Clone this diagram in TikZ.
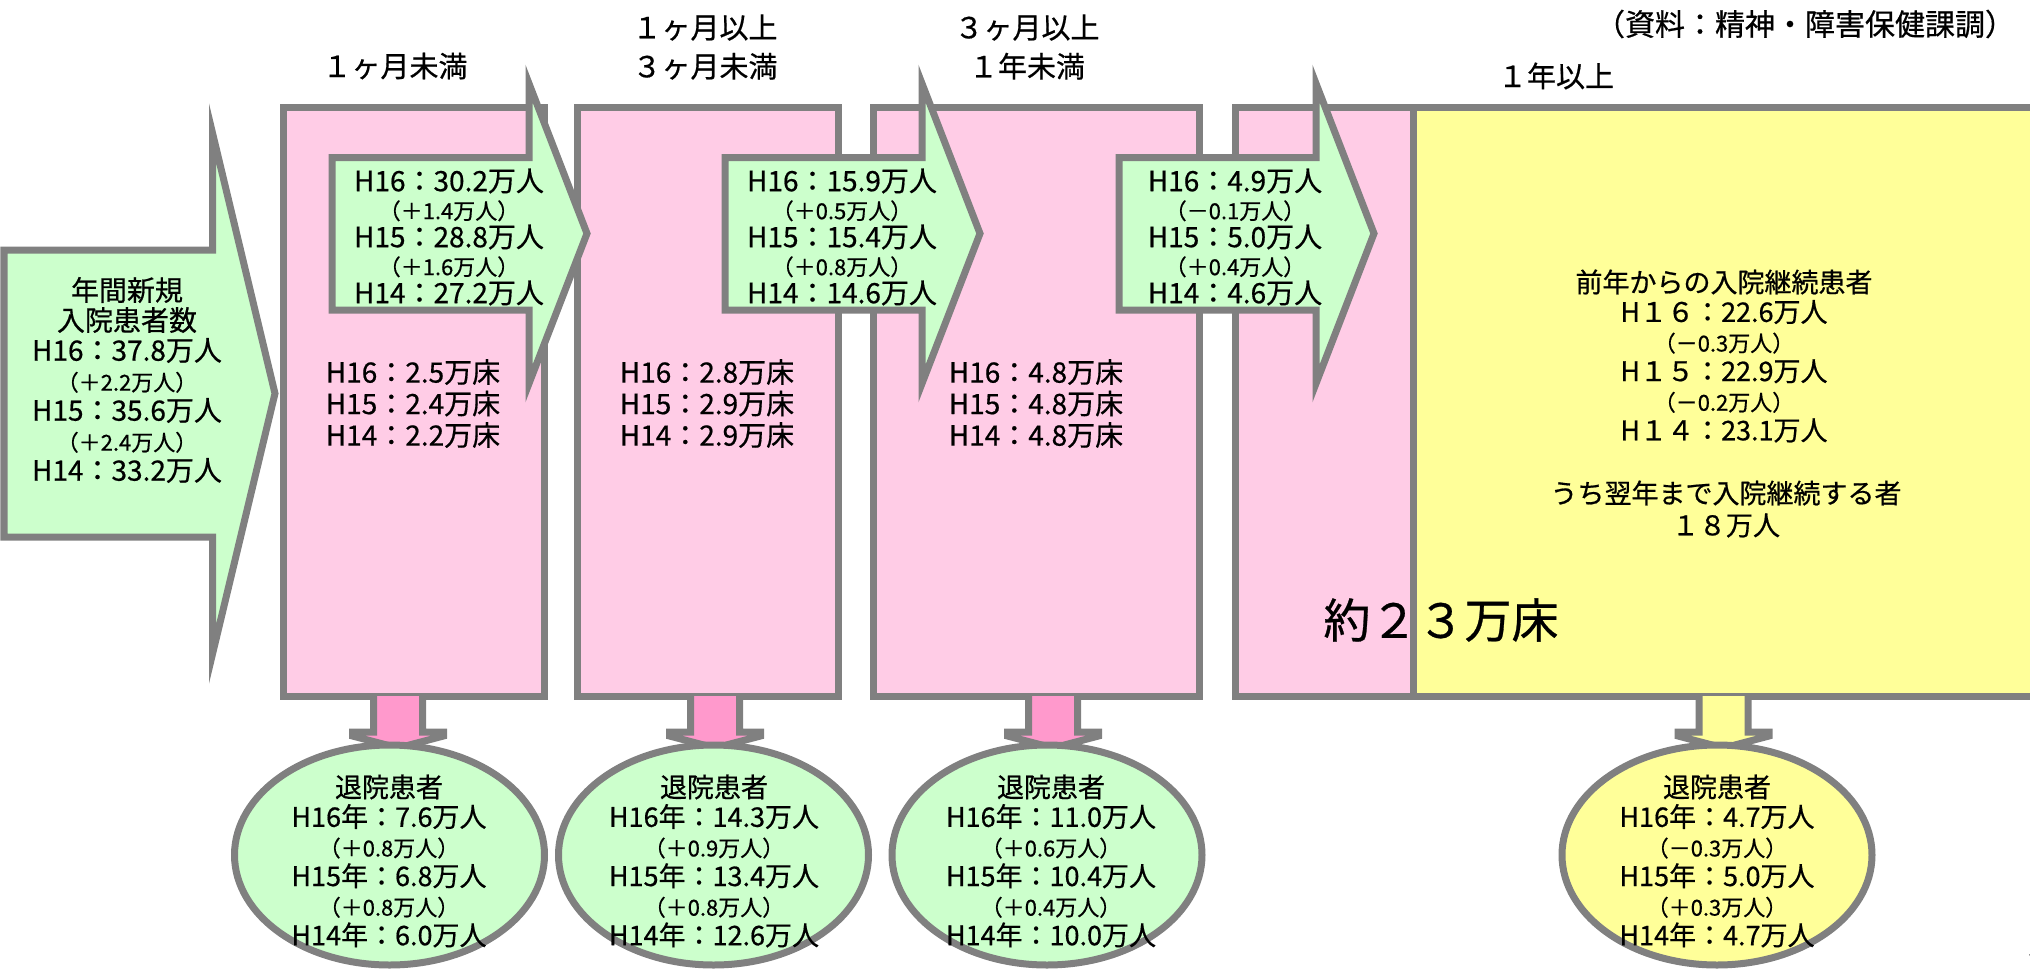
\documentclass[tikz,border=0pt]{standalone}
\usepackage{fontspec}
\setmainfont{Noto Sans CJK JP}[FakeBold=0.6]
\usepackage{tikz}
\usetikzlibrary{shapes.geometric}
\definecolor{linegray}{HTML}{808080}
\definecolor{pinkbed}{HTML}{FFCCE6}
\definecolor{greenflow}{HTML}{CCFFCC}
\definecolor{yellowlong}{HTML}{FFFF99}
\definecolor{pinkout}{HTML}{FF99CC}
\newcommand{\sm}[1]{{\fontsize{22}{22}\selectfont #1}}
\tikzset{
ward/.style={rectangle,draw=linegray,line width=7pt,fill=pinkbed,inner sep=0pt},
flow/.style={draw=linegray,line width=7pt,fill=greenflow},
outflow/.style={draw=linegray,line width=7pt,fill=pinkout},
leaver/.style={ellipse,draw=linegray,line width=7pt,fill=greenflow,minimum width=310pt,minimum height=220pt,inner sep=0pt},
flowtext/.style={align=center,inner sep=0pt,font=\fontsize{28}{28}\selectfont},
newtext/.style={align=center,inner sep=0pt,font=\fontsize{28}{30}\selectfont},
bedtext/.style={align=center,inner sep=0pt,font=\fontsize{28}{31.5}\selectfont},
leavetext/.style={align=center,inner sep=0pt,font=\fontsize{27}{29.6}\selectfont},
headtext/.style={align=center,inner sep=0pt,font=\fontsize{29}{39}\selectfont}
}

\begin{document}
\begin{tikzpicture}[x=1pt,y=-1pt]
\useasboundingbox (0,0) rectangle (2030,969);
% new admissions
\draw[flow] (4,250) -- (212.5,250) -- (212.5,133) -- (275,393.5) -- (212.5,654) -- (212.5,537) -- (4,537) -- cycle;
% wards by length of stay
\node at (413.5,401.5)[ward,minimum width=261pt,minimum height=589pt](w1){};
\node at (707.5,401.5)[ward,minimum width=261pt,minimum height=589pt](w2){};
\node at (1036,401.5)[ward,minimum width=326pt,minimum height=589pt](w3){};
\node at (1324,401.5)[ward,minimum width=178pt,minimum height=589pt](w4){};
\node at (1729,401.5)[ward,fill=yellowlong,minimum width=632pt,minimum height=589pt](w5){};
% transfers to the next stage
\draw[flow] (332,157.5) -- (529,157.5) -- (529,83.5) -- (587,233.5) -- (529,383.5) -- (529,310) -- (332,310) -- cycle;
\draw[flow] (725,157.5) -- (922,157.5) -- (922,83.5) -- (980,233.5) -- (922,383.5) -- (922,310) -- (725,310) -- cycle;
\draw[flow] (1119,157.5) -- (1316,157.5) -- (1316,83.5) -- (1374,233.5) -- (1316,383.5) -- (1316,310) -- (1119,310) -- cycle;
% discharges
\filldraw[outflow] (373.5,696) -- (373.5,732) -- (352.5,732) -- (352.5,736) -- (398,748) -- (443.5,736) -- (443.5,732) -- (422.5,732) -- (422.5,696);
\filldraw[outflow] (690.5,696) -- (690.5,732) -- (669.5,732) -- (669.5,736) -- (715,748) -- (760.5,736) -- (760.5,732) -- (739.5,732) -- (739.5,696);
\filldraw[outflow] (1028.5,696) -- (1028.5,732) -- (1007.5,732) -- (1007.5,736) -- (1053,748) -- (1098.5,736) -- (1098.5,732) -- (1077.5,732) -- (1077.5,696);
\filldraw[outflow,fill=yellowlong] (1699,696) -- (1699,732) -- (1678,732) -- (1678,736) -- (1723.5,748) -- (1769,736) -- (1769,732) -- (1748,732) -- (1748,696);
\node at (389.5,855)[leaver](e1){};
\node at (713.5,855)[leaver](e2){};
\node at (1047,855)[leaver](e3){};
\node at (1717,855)[leaver,fill=yellowlong](e4){};
% labels
\node at (1805,24)[headtext,font=\fontsize{30}{32}\selectfont](src){（資料：精神・障害保健課調）};
\node at (395,66)[headtext](h1){１ヶ月未満};
\node at (705,47)[headtext](h2){１ヶ月以上\\３ヶ月未満};
\node at (1027,47)[headtext](h3){３ヶ月以上\\１年未満};
\node at (1556,76)[headtext](h4){１年以上};
\node at (127,380)[newtext](tnew){年間新規\\入院患者数\\H16：37.8万人\\\sm{（＋2.2万人）}\\H15：35.6万人\\\sm{（＋2.4万人）}\\H14：33.2万人};
\node at (449,237)[flowtext](f1){H16：30.2万人\\\sm{（＋1.4万人）}\\H15：28.8万人\\\sm{（＋1.6万人）}\\H14：27.2万人};
\node at (842,237)[flowtext](f2){H16：15.9万人\\\sm{（＋0.5万人）}\\H15：15.4万人\\\sm{（＋0.8万人）}\\H14：14.6万人};
\node at (1235,237)[flowtext](f3){H16：4.9万人\\\sm{（－0.1万人）}\\H15：5.0万人\\\sm{（＋0.4万人）}\\H14：4.6万人};
\node at (413,403.5)[bedtext](b1){H16：2.5万床\\H15：2.4万床\\H14：2.2万床};
\node at (707,403.5)[bedtext](b2){H16：2.8万床\\H15：2.9万床\\H14：2.9万床};
\node at (1036,403.5)[bedtext](b3){H16：4.8万床\\H15：4.8万床\\H14：4.8万床};
\node at (1724,356)[leavetext](stay){前年からの入院継続患者\\H１６：22.6万人\\\sm{（－0.3万人）}\\H１５：22.9万人\\\sm{（－0.2万人）}\\H１４：23.1万人};
\node at (1726,509)[leavetext,font=\fontsize{27}{32}\selectfont](next){うち翌年まで入院継続する者\\１８万人};
\node at (1441,620)[inner sep=0pt,font=\fontsize{47}{50}\selectfont](beds){約２３万床};
\node at (389,861)[leavetext](l1){退院患者\\H16年：7.6万人\\\sm{（＋0.8万人）}\\H15年：6.8万人\\\sm{（＋0.8万人）}\\H14年：6.0万人};
\node at (714,861)[leavetext](l2){退院患者\\H16年：14.3万人\\\sm{（＋0.9万人）}\\H15年：13.4万人\\\sm{（＋0.8万人）}\\H14年：12.6万人};
\node at (1051,861)[leavetext](l3){退院患者\\H16年：11.0万人\\\sm{（＋0.6万人）}\\H15年：10.4万人\\\sm{（＋0.4万人）}\\H14年：10.0万人};
\node at (1717,861)[leavetext](l4){退院患者\\H16年：4.7万人\\\sm{（－0.3万人）}\\H15年：5.0万人\\\sm{（＋0.3万人）}\\H14年：4.7万人};
\node at (2037,947)[inner sep=0pt,font=\fontsize{30}{32}\selectfont](pg){5};
\end{tikzpicture}
\end{document}
